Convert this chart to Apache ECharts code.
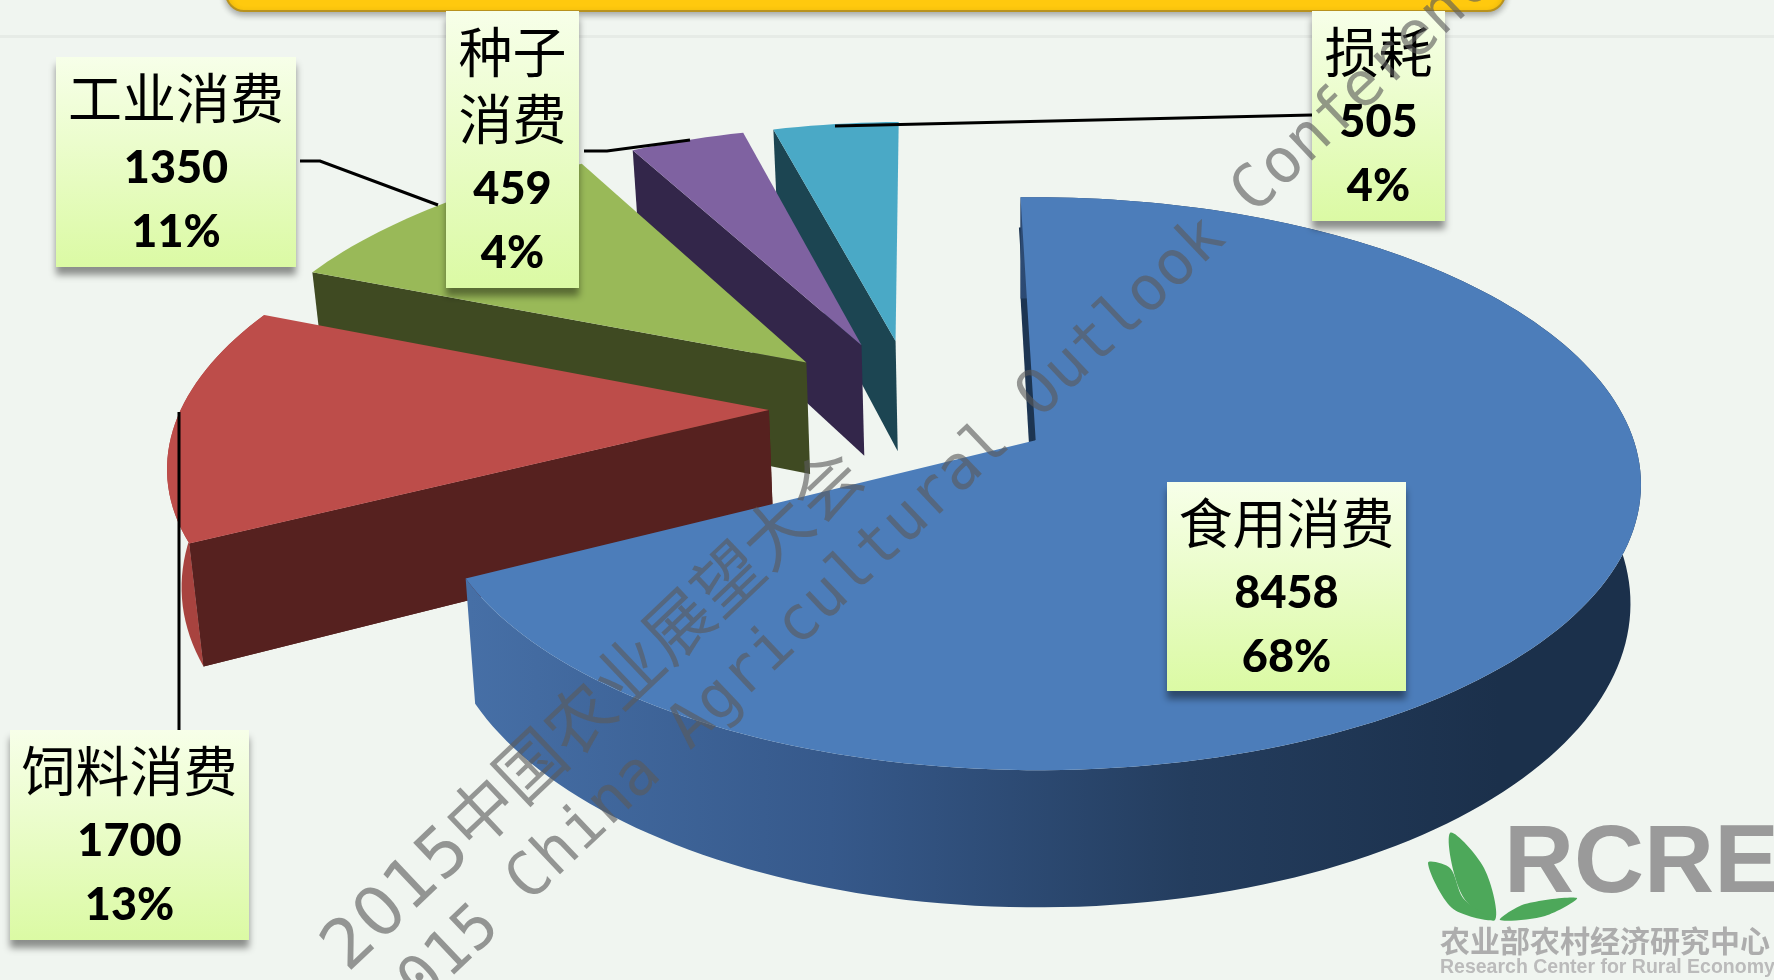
<!DOCTYPE html>
<html><head><meta charset="utf-8">
<style>html,body{margin:0;padding:0;background:#f0f5f0}#c{width:1774px;height:980px}</style>
<script src="https://cdn.jsdelivr.net/npm/echarts@6/dist/echarts.min.js"></script>
</head><body><div id="c"></div>
<script>
// ---- data ----
const categories = ['食用消费', '饲料消费', '工业消费', '种子消费', '损耗'];
const values = [8458, 1700, 1350, 459, 505];
const percentLabels = ['68%', '13%', '11%', '4%', '4%'];
const categoryLines = [['食用消费'], ['饲料消费'], ['工业消费'], ['种子', '消费'], ['损耗']];

// ---- styles ----
const topColors = ['#4c7dba', '#bd4d4a', '#99b958', '#7f62a1', '#4aa9c6'];
const cutColors = ['#1d3552', '#56211f', '#3f4a22', '#33264a', '#1c4552'];
const rimColors = [null, '#a8433f', null, null, null];
const sliceOrder = [50, 40, 30, 20, 10];

// ---- projection of the tilted pie ----
const O = [1024, 434], scaleX = 596, scaleY = 278, persp = 0.151, depth = 116, baseShrink = 0.983;
const centre = [-0.188, -0.1], startAngle = -1.5 * Math.PI / 180;
const explodeBy = [0.241, 0.246, 0.255, 0.255, 0.255];
function project(X, Y, bottom) {
  const w = 1 - persp * Y;
  return [O[0] + scaleX * X / w * (bottom ? baseShrink : 1), O[1] + (scaleY * Y + (bottom ? depth : 0)) / w];
}
const total = values.reduce((a, b) => a + b, 0);
function sliceStart(i) {
  let s = 0;
  for (let j = 0; j < i; j++) s += values[j];
  return startAngle + s / total * Math.PI * 2;
}
function renderSlice(params, api) {
  const i = params.dataIndex;
  const val = api.value(0);
  const a0 = sliceStart(i);
  const a1 = a0 + val / total * Math.PI * 2;
  const mid = (a0 + a1) / 2;
  const ax = centre[0] + explodeBy[i] * Math.sin(mid), ay = centre[1] - explodeBy[i] * Math.cos(mid);
  const steps = Math.max(6, Math.round((a1 - a0) * 40));
  const topArc = [], botArc = [];
  for (let s = 0; s <= steps; s++) {
    const a = a0 + (a1 - a0) * s / steps;
    topArc.push(project(ax + Math.sin(a), ay - Math.cos(a), false));
    botArc.push(project(ax + Math.sin(a), ay - Math.cos(a), true));
  }
  const apexT = project(ax, ay, false), apexB = project(ax, ay, true);
  const z = sliceOrder[i];
  const children = [
    {type: 'polygon', z2: z, shape: {points: [apexT, topArc[0], botArc[0], apexB]}, style: {fill: cutColors[i]}}
  ];
  if (i === 0) {
    // thin dark sliver of the cut face along the left of the big slice
    const nearTop = project(ax + 0.86 * Math.sin(a0), ay - 0.86 * Math.cos(a0), false);
    children.push({type: 'polyline', z2: z + 1, shape: {points: [apexT, nearTop]}, style: {stroke: cutColors[0], lineWidth: 7, fill: 'none'}});
    children.push({type: 'polygon', z2: z + 2, shape: {points: topArc.concat(botArc.slice().reverse())}, style: {
      fill: new echarts.graphic.LinearGradient(470, 0, 1500, 0, [
        {offset: 0, color: '#466fa6'}, {offset: 0.35, color: '#36598b'},
        {offset: 0.7, color: '#243d5e'}, {offset: 1, color: '#1b304b'}], true)}});
  } else if (rimColors[i]) {
    children.push({type: 'polygon', z2: z + 2, shape: {points: topArc.concat(botArc.slice().reverse())}, style: {fill: rimColors[i]}});
    children.push({type: 'polygon', z2: z + 2, shape: {points: [apexT, topArc[0], botArc[0], apexB]}, style: {fill: cutColors[i]}});
  }
  children.push({type: 'polygon', z2: z + 3, shape: {points: [apexT].concat(topArc)}, style: {fill: topColors[i]}});
  return {type: 'group', children: children};
}

// ---- label layout: box x,y,w,h and leader polyline ----
const labelBoxes = [
  [1167, 482, 239, 209],
  [10, 730, 239, 210],
  [56, 57, 240, 210],
  [446, 11, 133, 277],
  [1312, 11, 133, 210]
];
const leaders = [
  null,
  [[179, 412], [179, 730]],
  [[300, 161], [320, 161], [438, 205]],
  [[584, 151], [607, 151], [690, 140]],
  [[1312, 115], [835, 126]]
];
function renderLabel(params, api) {
  const i = params.dataIndex;
  const [x, y, w, h] = labelBoxes[i];
  const kids = [];
  if (leaders[i]) kids.push({type: 'polyline', z2: 1, shape: {points: leaders[i]}, style: {stroke: '#000', lineWidth: 3, fill: 'none'}});
  kids.push({type: 'rect', z2: 2, shape: {x, y, width: w, height: h}, style: {
    fill: new echarts.graphic.LinearGradient(0, 0, 0, 1, [{offset: 0, color: '#f7ffe9'}, {offset: 1, color: '#dbfaa4'}]),
    shadowColor: 'rgba(0,0,0,0.42)', shadowBlur: 7, shadowOffsetY: 8, shadowOffsetX: 0}});
  const cx = x + w / 2;
  let ly = y + 41;
  categoryLines[i].forEach(t => {
    kids.push({type: 'text', z2: 3, style: {text: t, x: cx, y: ly, align: 'center', verticalAlign: 'middle', fill: '#000',
      font: '400 54px "Noto Sans CJK SC"'}});
    ly += 67;
  });
  ly += 3;
  kids.push({type: 'text', z2: 3, style: {text: String(api.value(0)), x: cx, y: ly, align: 'center', verticalAlign: 'middle', fill: '#000', font: '900 45px Lato'}});
  ly += 64;
  kids.push({type: 'text', z2: 3, style: {text: percentLabels[i], x: cx, y: ly, align: 'center', verticalAlign: 'middle', fill: '#000', font: '900 45px Lato'}});
  return {type: 'group', children: kids};
}

const chart = echarts.init(document.getElementById('c'), null, {renderer: 'canvas'});
const wmFill = 'rgba(90,90,90,0.62)';
chart.setOption({
  animation: false,
  backgroundColor: '#f0f5f0',
  tooltip: {show: false},
  graphic: [
    {type: 'rect', z: 0, shape: {x: 0, y: 35, width: 1774, height: 3}, style: {fill: '#e6ebe6'}},
    {type: 'rect', z: 1, shape: {x: 226, y: -40, width: 1279, height: 51, r: 18}, style: {
      fill: '#ffc90e', stroke: '#b8921e', lineWidth: 2, shadowColor: 'rgba(0,0,0,0.3)', shadowBlur: 6, shadowOffsetY: 3}},
    // logo
    {type: 'polygon', z: 1, shape: {smooth: 0.35, points: [[1450, 833], [1484, 868], [1495, 920], [1462, 895]]}, style: {fill: '#4da85a'}},
    {type: 'polygon', z: 1, shape: {smooth: 0.3, points: [[1428, 863], [1450, 868], [1463, 898], [1491, 920], [1452, 908]]}, style: {fill: '#4da85a'}},
    {type: 'polygon', z: 1, shape: {smooth: 0.3, points: [[1500, 920], [1525, 904], [1577, 898], [1545, 916]]}, style: {fill: '#4da85a'}},
    {type: 'text', z: 1, style: {text: 'RCRE', x: 1504, y: 865, verticalAlign: 'middle', fill: '#9a9a9a', font: '700 97px "Liberation Sans"'}},
    {type: 'text', z: 1, style: {text: '农业部农村经济研究中心', x: 1440, y: 941, verticalAlign: 'middle', fill: '#adadad', font: '700 30px "Noto Sans CJK SC"'}},
    {type: 'text', z: 1, style: {text: 'Research Center for Rural Economy', x: 1440, y: 968, verticalAlign: 'middle', fill: '#bbbbbb', font: '700 19.5px "Liberation Sans"'}},
    // watermark
    {type: 'text', z: 100, x: 359, y: 985, rotation: 43.5 * Math.PI / 180, style: {text: '2015中国农业展望大会', verticalAlign: 'bottom', fill: wmFill, font: '400 68px "DejaVu Sans","Noto Sans CJK SC"'}},
    {type: 'text', z: 100, x: 405, y: 1042, rotation: 43.5 * Math.PI / 180, style: {text: '2015 China Agricultural Outlook Conference', verticalAlign: 'bottom', fill: wmFill, font: '400 61.5px "DejaVu Sans Mono"'}}
  ],
  series: [
    {type: 'custom', coordinateSystem: 'none', z: 2, silent: true, renderItem: renderSlice,
      data: values.map((v, i) => ({name: categories[i], value: [v]}))},
    {type: 'custom', coordinateSystem: 'none', z: 5, silent: true, renderItem: renderLabel,
      data: values.map((v, i) => ({name: categories[i], value: [v]}))}
  ]
});
</script></body></html>
